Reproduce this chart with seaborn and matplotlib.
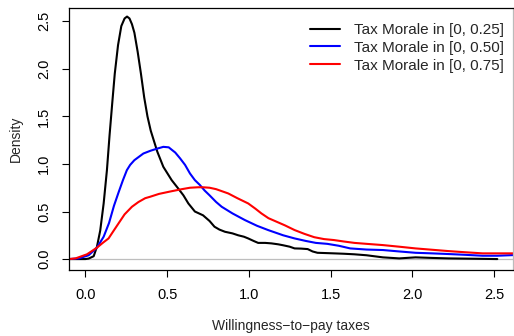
import pandas as pd
import seaborn as sns
import matplotlib.pyplot as plt

# density curves (x, density)
x_025 = [-0.1, -0.05, 0.0, 0.02, 0.051, 0.071, 0.091, 0.112, 0.132, 0.148, 0.165, 0.18,
         0.20, 0.22, 0.24, 0.255, 0.27, 0.285, 0.30, 0.32, 0.34, 0.36, 0.38, 0.40,
         0.42, 0.44, 0.477, 0.528, 0.569, 0.60, 0.63, 0.67, 0.72, 0.76, 0.79, 0.82,
         0.854, 0.90, 0.935, 0.97, 0.996, 1.03, 1.057, 1.10, 1.138, 1.18, 1.21, 1.25,
         1.28, 1.32, 1.36, 1.39, 1.42, 1.47, 1.52, 1.58, 1.646, 1.72, 1.82, 1.92,
         2.02, 2.12, 2.22, 2.35, 2.52]
y_025 = [0.0, 0.0, 0.0, 0.005, 0.03, 0.13, 0.30, 0.585, 0.935, 1.30, 1.65, 1.95,
         2.25, 2.45, 2.53, 2.55, 2.53, 2.47, 2.38, 2.18, 1.95, 1.70, 1.50, 1.35,
         1.24, 1.13, 0.97, 0.83, 0.74, 0.67, 0.585, 0.50, 0.46, 0.40, 0.34, 0.31,
         0.287, 0.27, 0.25, 0.235, 0.217, 0.19, 0.17, 0.17, 0.165, 0.155, 0.145, 0.13,
         0.112, 0.11, 0.105, 0.08, 0.066, 0.063, 0.06, 0.056, 0.05, 0.04, 0.018, 0.007,
         0.018, 0.012, 0.007, 0.004, 0.0]

x_050 = [-0.1, -0.04, 0.02, 0.071, 0.112, 0.145, 0.175, 0.203, 0.23, 0.254, 0.274, 0.30,
         0.355, 0.40, 0.437, 0.477, 0.51, 0.528, 0.55, 0.579, 0.61, 0.64, 0.67, 0.70,
         0.73, 0.76, 0.80, 0.834, 0.90, 0.976, 1.05, 1.118, 1.21, 1.28, 1.35, 1.41,
         1.48, 1.55, 1.62, 1.72, 1.82, 1.92, 2.02, 2.12, 2.22, 2.32, 2.43, 2.52, 2.62]
y_050 = [0.0, 0.007, 0.04, 0.12, 0.235, 0.38, 0.56, 0.70, 0.83, 0.935, 0.99, 1.04,
         1.11, 1.14, 1.16, 1.18, 1.175, 1.15, 1.12, 1.06, 0.99, 0.90, 0.83, 0.78,
         0.72, 0.67, 0.60, 0.55, 0.48, 0.41, 0.35, 0.305, 0.25, 0.217, 0.19, 0.17,
         0.16, 0.14, 0.112, 0.10, 0.095, 0.08, 0.066, 0.06, 0.053, 0.045, 0.035, 0.035, 0.042]

x_075 = [-0.1, -0.06, 0.01, 0.071, 0.11, 0.142, 0.17, 0.203, 0.24, 0.285, 0.325, 0.366,
         0.396, 0.45, 0.518, 0.59, 0.64, 0.69, 0.72, 0.76, 0.80, 0.874, 0.93, 0.996,
         1.04, 1.077, 1.12, 1.16, 1.22, 1.28, 1.34, 1.40, 1.46, 1.52, 1.58, 1.646,
         1.72, 1.82, 1.92, 2.02, 2.12, 2.22, 2.32, 2.43, 2.52, 2.62]
y_075 = [0.0, 0.007, 0.05, 0.12, 0.175, 0.217, 0.29, 0.375, 0.47, 0.55, 0.60, 0.64,
         0.655, 0.685, 0.71, 0.735, 0.75, 0.755, 0.755, 0.75, 0.735, 0.69, 0.64, 0.585,
         0.53, 0.48, 0.43, 0.40, 0.355, 0.305, 0.265, 0.23, 0.21, 0.20, 0.185, 0.17,
         0.16, 0.147, 0.13, 0.112, 0.098, 0.084, 0.072, 0.06, 0.06, 0.06]

labels = ["Tax Morale in [0, 0.25]", "Tax Morale in [0, 0.50]", "Tax Morale in [0, 0.75]"]
colors = ["black", "blue", "red"]
ticks = [0, 0.5, 1.0, 1.5, 2.0, 2.5]
tick_labels = ["0.0", "0.5", "1.0", "1.5", "2.0", "2.5"]

frames = []
for lab, xs, ys in zip(labels, [x_025, x_050, x_075], [y_025, y_050, y_075]):
    frames.append(pd.DataFrame({"x": xs, "density": ys, "group": lab}))
df = pd.concat(frames, ignore_index=True)

sns.set_theme(style="white")
plt.rcParams["font.family"] = ["Liberation Sans", "DejaVu Sans"]

fig = plt.figure(figsize=(5.14, 3.36), dpi=100)
ax = fig.add_axes([69 / 514, 1 - 270 / 336, 444 / 514, 262 / 336])

ax.axhline(0, color="#bebebe", lw=0.9, zorder=0)
sns.lineplot(data=df, x="x", y="density", hue="group", palette=colors,
             estimator=None, sort=True, lw=1.5, ax=ax)

ax.set_xlim(-0.1, 2.616)
ax.set_ylim(-0.115, 2.64)
ax.set_xticks(ticks)
ax.set_yticks(ticks)
ax.set_xticklabels(tick_labels)
ax.set_yticklabels(tick_labels, rotation=90, va="center")
ax.tick_params(axis="both", direction="out", length=5, width=0.8, colors="black",
               labelsize=10.5, pad=8, bottom=True, left=True)
for s in ax.spines.values():
    s.set_color("black")
    s.set_linewidth(0.9)
ax.spines["right"].set_color("#bbbbbb")

ax.set_xlabel("Willingness\u2212to\u2212pay taxes", fontsize=10, labelpad=12)
ax.set_ylabel("Density", fontsize=10, labelpad=10)

ax.legend(loc="upper right", bbox_to_anchor=(0.98, 0.943), frameon=False,
          fontsize=11, handlelength=2.0, handletextpad=0.9, labelspacing=0.25,
          borderaxespad=0, borderpad=0)

fig.savefig("out.png", dpi=100)
